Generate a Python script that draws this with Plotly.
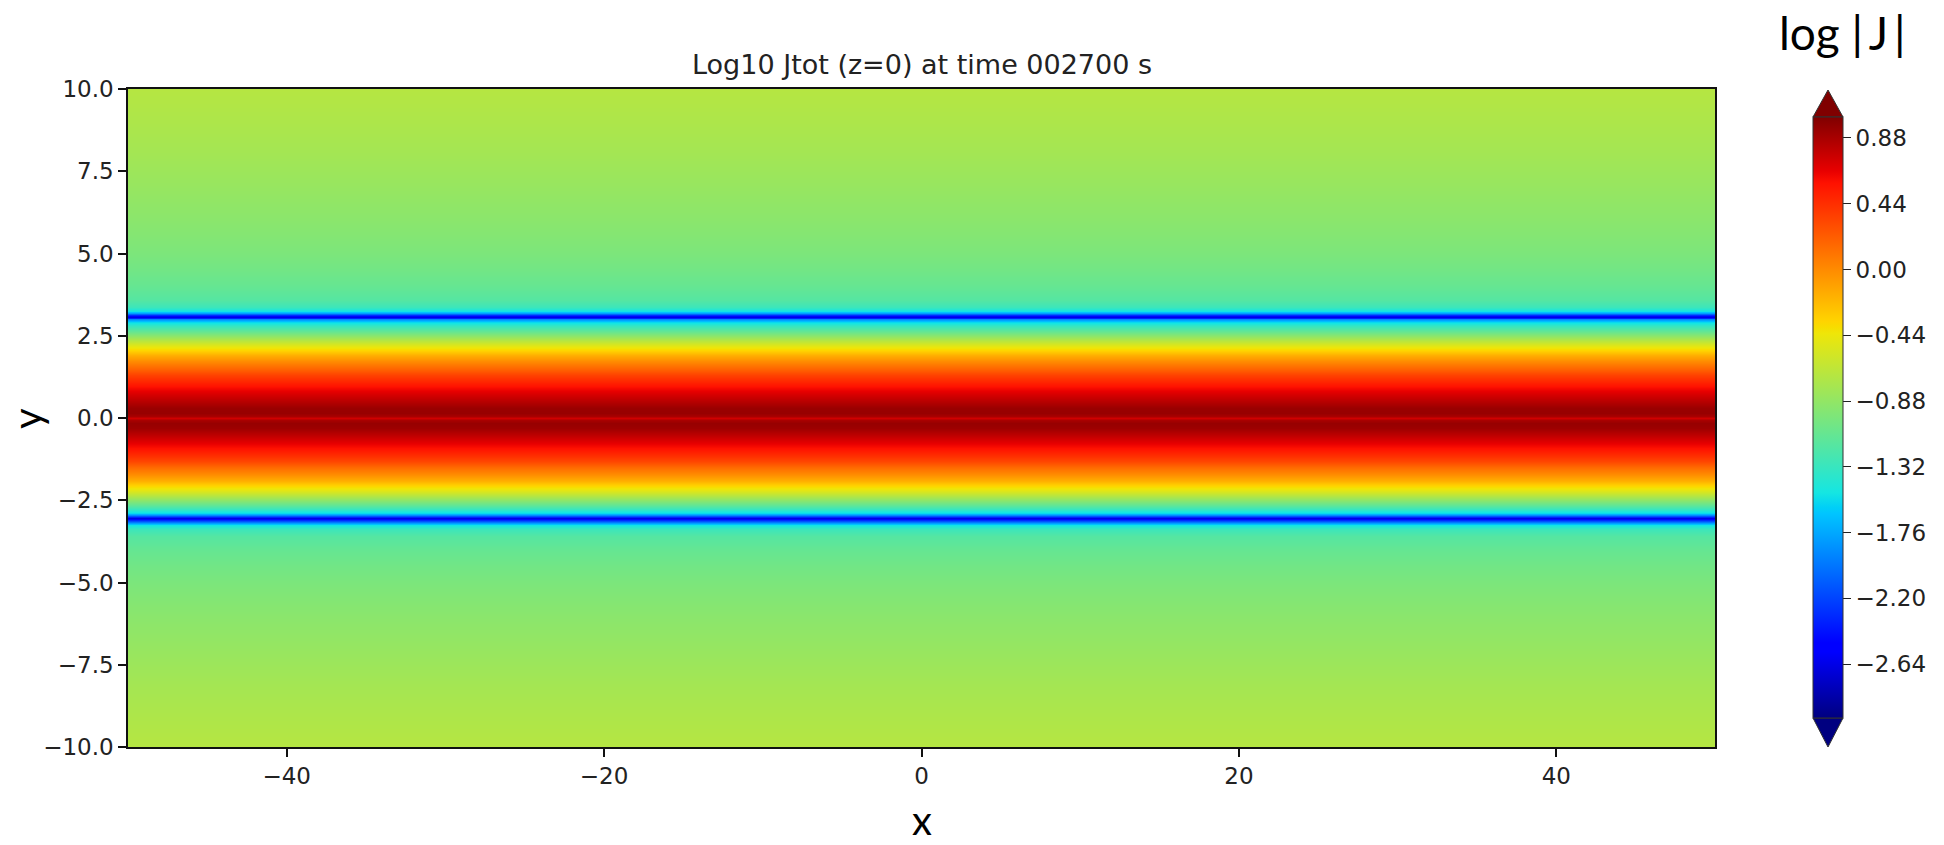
import numpy as np
import plotly.graph_objects as go

# ---- data -------------------------------------------------------------
# log10 |J| profile across the current sheet (z=0), sampled in y
y_prof = [-10, -9, -8, -7, -6, -5, -4.5, -4, -3.6, -3.38, -3.26, -3.18, -3.11,
          -3.05, -3.0, -2.95, -2.88, -2.78, -2.65, -2.5, -2.35, -2.2, -2.05,
          -1.9, -1.7, -1.5, -1.3, -1.1, -0.9, -0.7, -0.5, -0.3, -0.15, -0.05,
          0.0,
          0.05, 0.15, 0.3, 0.5, 0.7, 0.9, 1.1, 1.3, 1.5, 1.7, 1.9, 2.05, 2.2,
          2.35, 2.5, 2.65, 2.8, 2.92, 3.0, 3.05, 3.08, 3.12, 3.18, 3.26, 3.38,
          3.6, 4, 4.5, 5, 6, 7, 8, 9, 10]
logj_prof = [-0.71, -0.75, -0.80, -0.86, -0.92, -0.99, -1.04, -1.10, -1.18,
             -1.30, -1.50, -1.80, -2.30, -2.65, -2.35, -1.90, -1.55, -1.32,
             -1.12, -0.90, -0.68, -0.48, -0.33, -0.18, 0.00, 0.16, 0.33, 0.47,
             0.58, 0.70, 0.82, 0.92, 0.94, 0.88,
             0.74,
             0.88, 0.94, 0.93, 0.84, 0.73, 0.61, 0.49, 0.35, 0.19, 0.02, -0.17,
             -0.32, -0.48, -0.68, -0.90, -1.12, -1.32, -1.55, -1.90, -2.35,
             -2.65, -2.30, -1.80, -1.50, -1.30, -1.18, -1.10, -1.04, -0.99,
             -0.92, -0.86, -0.80, -0.75, -0.71]
x_cols = [-50, 50]

x_ticks = [-40, -20, 0, 20, 40]
x_ticktext = ["\u221240", "\u221220", "0", "20", "40"]
y_ticks = [10, 7.5, 5, 2.5, 0, -2.5, -5, -7.5, -10]
y_ticktext = ["10.0", "7.5", "5.0", "2.5", "0.0", "\u22122.5", "\u22125.0",
              "\u22127.5", "\u221210.0"]
cb_ticks = [0.88, 0.44, 0.0, -0.44, -0.88, -1.32, -1.76, -2.20, -2.64]
cb_ticktext = ["0.88", "0.44", "0.00", "\u22120.44", "\u22120.88", "\u22121.32",
               "\u22121.76", "\u22122.20", "\u22122.64"]
c_min, c_max = -3.0, 1.02

# ---- jet colormap (green channel slightly toned down) ----------------
_jet = {
    "r": [(0, 0), (0.35, 0), (0.66, 1), (0.89, 1), (1, 0.5)],
    "g": [(0, 0), (0.125, 0), (0.375, 1), (0.64, 1), (0.91, 0), (1, 0)],
    "b": [(0, 0.5), (0.11, 1), (0.34, 1), (0.65, 0), (1, 0)],
}
_gain = {"r": 1.0, "g": 0.9, "b": 1.0}
stops = sorted({p for seg in _jet.values() for p, _ in seg})
jet_scale = []
for s in stops:
    ch = [_gain[c] * np.interp(s, [p for p, _ in _jet[c]], [v for _, v in _jet[c]])
          for c in "rgb"]
    jet_scale.append([s, "rgb({},{},{})".format(*[int(round(255 * v)) for v in ch])])

z = np.tile(np.array(logj_prof)[:, None], (1, len(x_cols)))

# ---- layout geometry (pixels) ---------------------------------------
W, H = 1944, 845
L, R, T, B = 128, 1715, 89, 747
pw, ph = R - L, B - T


def px(xp):
    return (xp - L) / pw


def py(yp):
    return (B - yp) / ph


cb_left, cb_w = 1813, 30
cb_top, cb_bot = 117, 718
cb_mid = (cb_top + cb_bot) / 2

fig = go.Figure(go.Heatmap(
    x=x_cols, y=y_prof, z=z,
    zmin=c_min, zmax=c_max, colorscale=jet_scale, zsmooth="best",
    colorbar=dict(
        thickness=cb_w, thicknessmode="pixels",
        len=cb_bot - cb_top, lenmode="pixels",
        x=px(cb_left), xanchor="left", xpad=0,
        y=py(cb_mid), yanchor="middle", ypad=0,
        outlinewidth=1, outlinecolor="#333333",
        ticks="outside", ticklen=8, tickwidth=1.2, tickcolor="#222222",
        tickvals=cb_ticks, ticktext=cb_ticktext,
        tickfont=dict(family="DejaVu Sans", size=23, color="#222222"),
    ),
    hoverinfo="skip",
))

# extension triangles of the colorbar
x0, x1, xm = px(cb_left), px(cb_left + cb_w), px(cb_left + cb_w / 2)
fig.add_shape(type="path", xref="paper", yref="paper",
              path=f"M {x0} {py(cb_top)} L {x1} {py(cb_top)} L {xm} {py(90)} Z",
              fillcolor="#800000", line=dict(color="#333333", width=1))
fig.add_shape(type="path", xref="paper", yref="paper",
              path=f"M {x0} {py(cb_bot)} L {x1} {py(cb_bot)} L {xm} {py(747)} Z",
              fillcolor="#000080", line=dict(color="#333333", width=1))

axis_common = dict(showline=True, mirror=True, linecolor="#111111", linewidth=1.5,
                   ticks="outside", ticklen=8, tickwidth=1.5, tickcolor="#111111",
                   showgrid=False, zeroline=False,
                   tickfont=dict(family="DejaVu Sans", size=23, color="#222222"))

fig.update_xaxes(range=[-50, 50], tickvals=x_ticks, ticktext=x_ticktext, **axis_common)
fig.update_yaxes(range=[-10, 10], tickvals=y_ticks, ticktext=y_ticktext, **axis_common)

fig.add_annotation(text="Log10 Jtot (z=0) at time 002700 s", xref="paper", yref="paper",
                   x=0.5, y=py(64), xanchor="center", yanchor="middle", showarrow=False,
                   font=dict(family="DejaVu Sans", size=27, color="#222222"))
fig.add_annotation(text="x", xref="paper", yref="paper", x=0.5, y=py(820),
                   xanchor="center", yanchor="middle", showarrow=False,
                   font=dict(family="Lato", size=40, color="#000000"))
fig.add_annotation(text="y", xref="paper", yref="paper", x=px(27), y=0.5, textangle=-90,
                   xanchor="center", yanchor="middle", showarrow=False,
                   font=dict(family="Lato", size=40, color="#000000"))
fig.add_annotation(text="log |\u2009J\u2009|", xref="paper", yref="paper", x=px(1842), y=py(32),
                   xanchor="center", yanchor="middle", showarrow=False,
                   font=dict(family="Lato", size=46, color="#000000"))

fig.update_layout(width=W, height=H, autosize=False,
                  margin=dict(l=L, r=W - R, t=T, b=H - B),
                  paper_bgcolor="white", plot_bgcolor="white", showlegend=False)

fig.write_html("out.html")
